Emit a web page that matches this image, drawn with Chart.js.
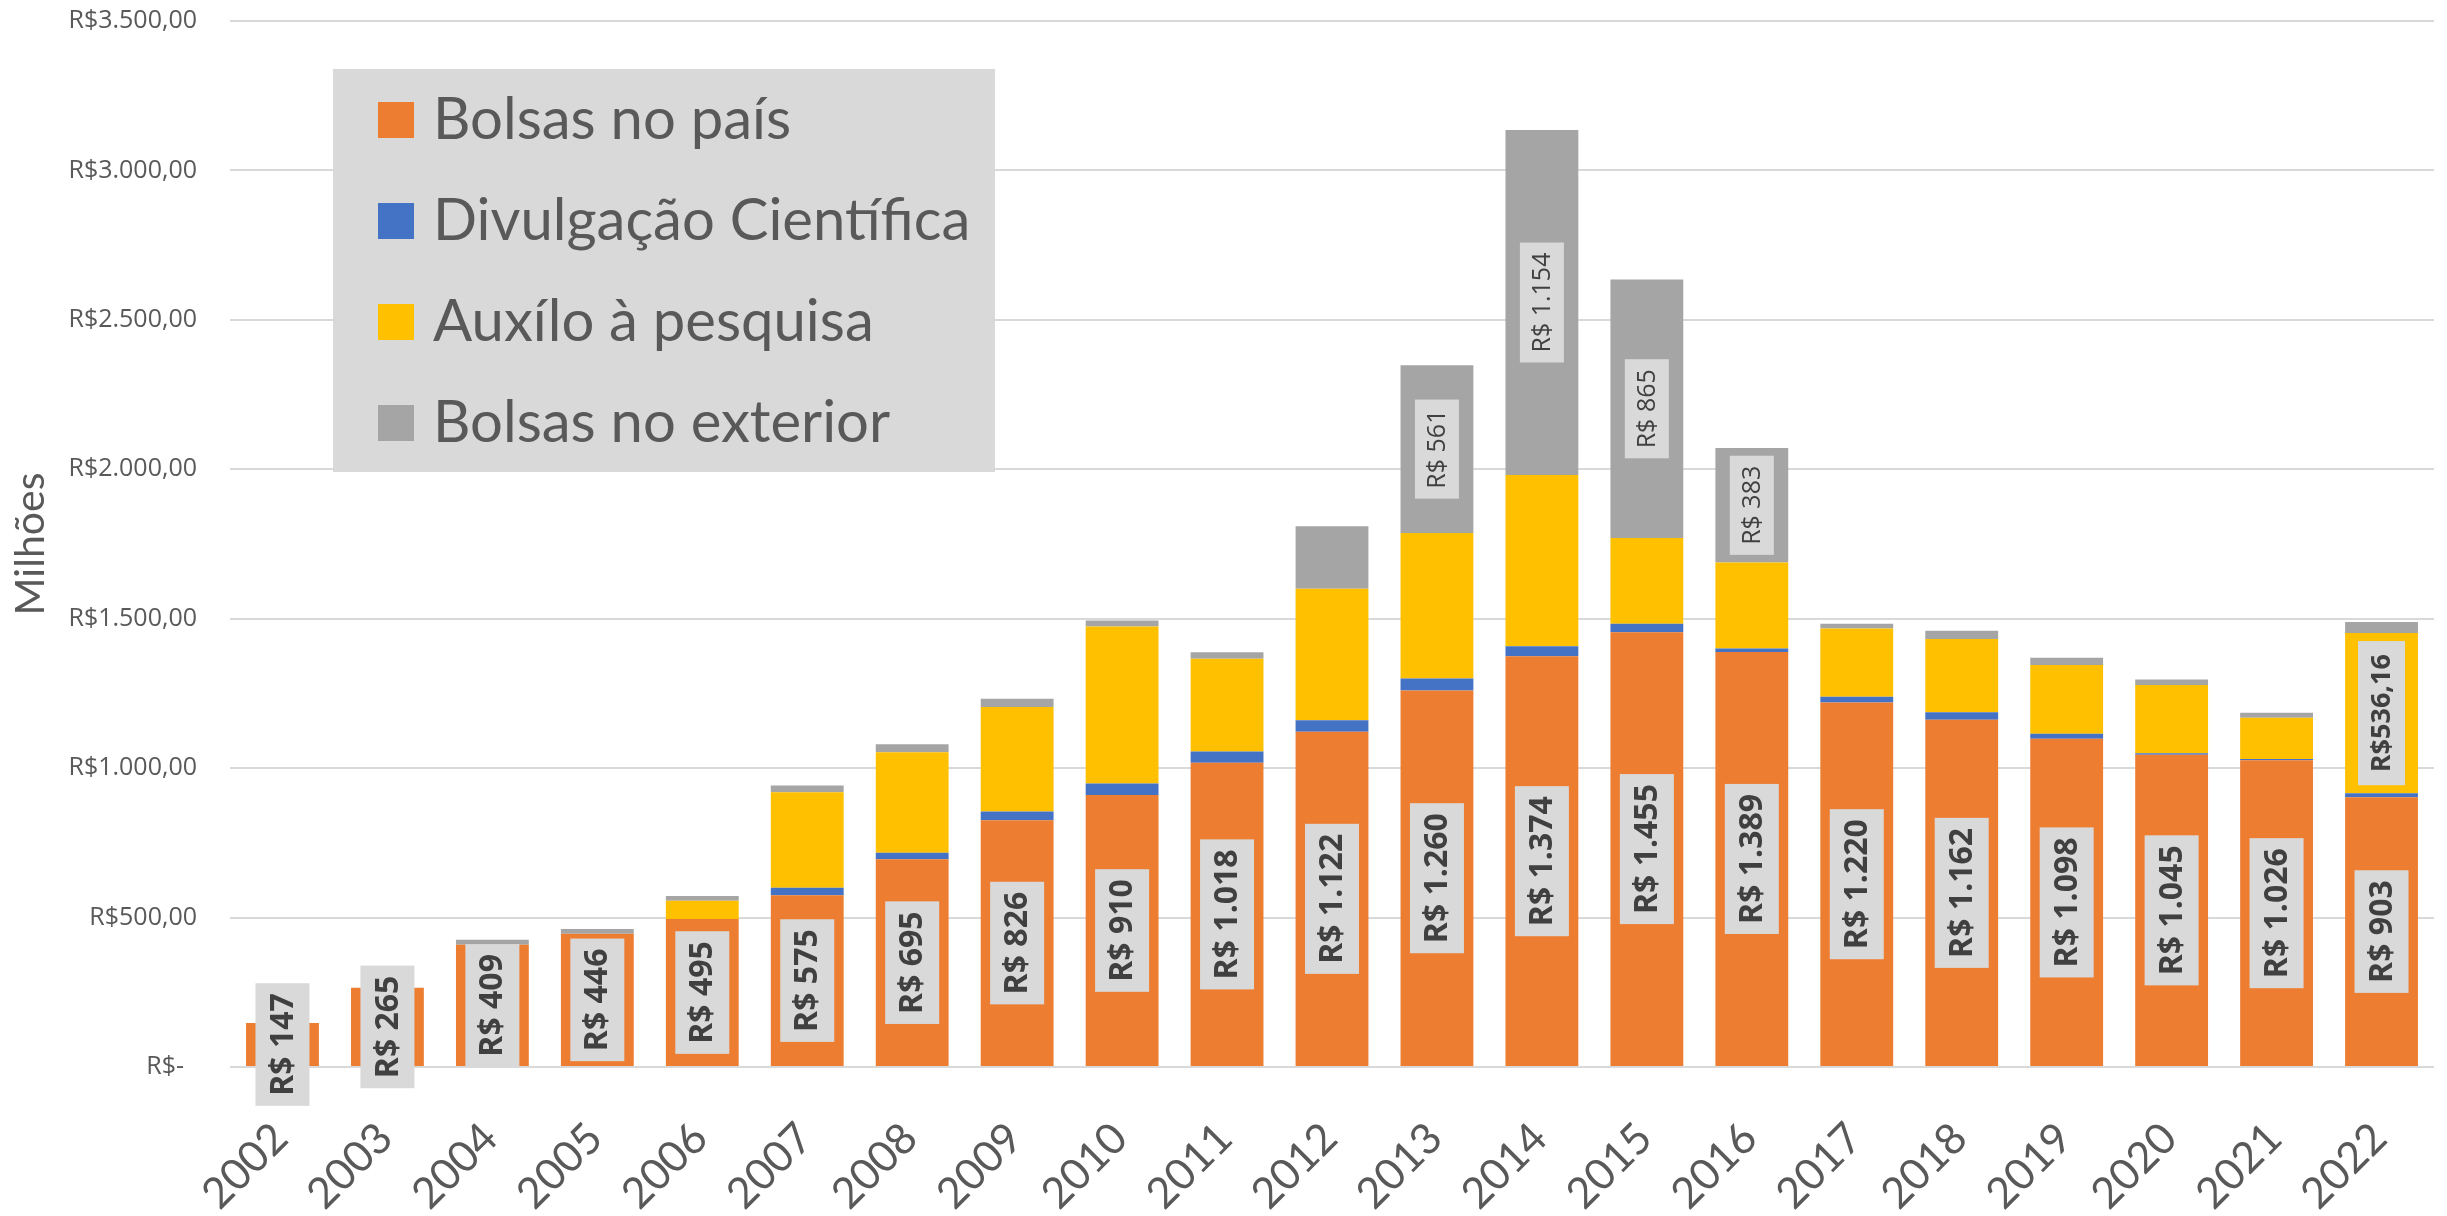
<!DOCTYPE html>
<html>
<head>
<meta charset="utf-8">
<script src="https://cdn.jsdelivr.net/npm/chart.js@4.4.0/dist/chart.umd.min.js"></script>
<style>
html,body{margin:0;padding:0;background:#ffffff;overflow:hidden}
#wrap{width:2447px;height:1216px;position:relative}
</style>
</head>
<body>
<div id="wrap"><canvas id="c" width="2447" height="1216"></canvas></div>
<script>
// ---- data ----
const years = ['2002','2003','2004','2005','2006','2007','2008','2009','2010','2011','2012','2013','2014','2015','2016','2017','2018','2019','2020','2021','2022'];
const bolsasPais = [147,265,409,446,495,575,695,826,910,1018,1122,1260,1374,1455,1389,1220,1162,1098,1045,1026,903];
const divulgacao = [0,0,0,0,0,25,22,29,39,38,38,40,34,28,11,19,25,17,5,5,13];
const auxilio = [0,0,0,0,61,319,336,350,525,310,440,487,573,287,288,228,245,230,228,138,536.16];
const exterior = [0,0,17,16,16,23,27,27,20,22,209,561,1154,865,383,16,28,24,19,16,37];
const seriesNames = ['Bolsas no país','Divulgação Científica','Auxílo à pesquisa','Bolsas no exterior'];
const seriesColors = ['#ED7D31','#4472C4','#FFC000','#A5A5A5'];
const yTickValues = [0,500,1000,1500,2000,2500,3000,3500];
const labelPaisYears = years.slice();
const labelExteriorYears = ['2013','2014','2015','2016'];
const labelAuxilioYears = ['2022'];

function thousands(n){ return String(Math.round(n)).replace(/\B(?=(\d{3})+(?!\d))/g,'.'); }
function fmtTick(v){ return v === 0 ? 'R$-  ' : 'R$' + thousands(v) + ',00'; }
function fmtInt(v){ return 'R$ ' + thousands(v); }
function fmtDec(v){ return 'R$' + v.toFixed(2).replace('.', ','); }

const labelItems = [
  {dataset:0, years:labelPaisYears, format:fmtInt, font:'bold 32px "Open Sans"', across:54, padAlong:10},
  {dataset:3, years:labelExteriorYears, format:fmtInt, font:'25px "Open Sans"', across:44, padAlong:10},
  {dataset:2, years:labelAuxilioYears, format:fmtDec, font:'bold 27px "Open Sans"', across:47, padAlong:13}
];

const segLabels = {
  id:'segLabels',
  afterDatasetsDraw(chart){
    const ctx = chart.ctx;
    labelItems.forEach(item=>{
      const meta = chart.getDatasetMeta(item.dataset);
      const ds = chart.data.datasets[item.dataset];
      meta.data.forEach((el,i)=>{
        if(!item.years.includes(chart.data.labels[i])) return;
        const v = ds.data[i];
        const p = el.getProps(['x','y','base'], true);
        const cy = (p.y + p.base)/2;
        const text = item.format(v);
        ctx.save();
        ctx.font = item.font;
        const tw = ctx.measureText(text).width;
        const w = tw + 2*item.padAlong, h = item.across;
        ctx.translate(p.x, cy);
        ctx.rotate(-Math.PI/2);
        ctx.fillStyle = '#D9D9D9';
        ctx.fillRect(-w/2, -h/2, w, h);
        ctx.fillStyle = '#404040';
        ctx.textAlign = 'center';
        ctx.textBaseline = 'middle';
        ctx.fillText(text, 0, 1);
        ctx.restore();
      });
    });
  }
};

// rotated category labels, placed from the x scale's own tick pixels
const xTickLabels = {
  id:'xTickLabels',
  afterDraw(chart){
    const xs = chart.scales.x;
    const ctx = chart.ctx;
    ctx.save();
    ctx.font = '43px Lato';
    ctx.fillStyle = '#595959';
    ctx.textAlign = 'right';
    ctx.textBaseline = 'middle';
    chart.data.labels.forEach((lab,i)=>{
      const px = xs.getPixelForTick(i);
      ctx.save();
      ctx.translate(px - 2, chart.chartArea.bottom + 64);
      ctx.rotate(-Math.PI/4);
      ctx.fillText(lab, 0, 0);
      ctx.restore();
    });
    ctx.restore();
  }
};

const boxLegend = {
  id:'boxLegend',
  afterDraw(chart){
    const ctx = chart.ctx;
    ctx.save();
    ctx.fillStyle = '#D9D9D9';
    ctx.fillRect(333, 69, 662, 403);
    ctx.font = '58px Lato';
    ctx.textBaseline = 'middle';
    ctx.textAlign = 'left';
    chart.data.datasets.forEach((ds,i)=>{
      const cy = 120 + i*101;
      ctx.fillStyle = ds.backgroundColor;
      ctx.fillRect(378, cy-18, 36, 36);
      ctx.fillStyle = '#595959';
      ctx.fillText(ds.label, 433, cy);
    });
    ctx.restore();
  }
};

const seriesData = [bolsasPais, divulgacao, auxilio, exterior];
const datasets = seriesNames.map((name,i)=>({
  label:name,
  data:seriesData[i],
  backgroundColor:seriesColors[i],
  borderWidth:0,
  barPercentage:0.694,
  categoryPercentage:1.0
}));

new Chart(document.getElementById('c'), {
  type:'bar',
  data:{labels:years, datasets:datasets},
  options:{
    responsive:false,
    animation:false,
    devicePixelRatio:1,
    layout:{padding:{top:21,right:13,left:0,bottom:0}},
    plugins:{legend:{display:false}, tooltip:{enabled:false}},
    scales:{
      x:{
        stacked:true,
        grid:{display:false, drawTicks:false},
        border:{display:false},
        ticks:{display:false},
        afterFit(scale){ scale.height = 149; scale.paddingLeft = 0; scale.paddingRight = 0; }
      },
      y:{
        stacked:true,
        min:0, max:3500,
        afterBuildTicks(scale){ scale.ticks = yTickValues.map(v=>({value:v})); },
        grid:{color:'#D9D9D9', lineWidth:2, drawTicks:false},
        border:{display:false},
        ticks:{
          padding:33, color:'#595959', font:{family:'Open Sans', size:25},
          callback:(v)=>fmtTick(v)
        },
        title:{display:true, text:'Milhões', color:'#595959', font:{family:'Lato', size:41}, padding:{top:6,bottom:0}},
        afterFit(scale){ scale.width = 230; scale.paddingTop = 0; scale.paddingBottom = 0; }
      }
    }
  },
  plugins:[segLabels, xTickLabels, boxLegend]
});
</script>
</body>
</html>
